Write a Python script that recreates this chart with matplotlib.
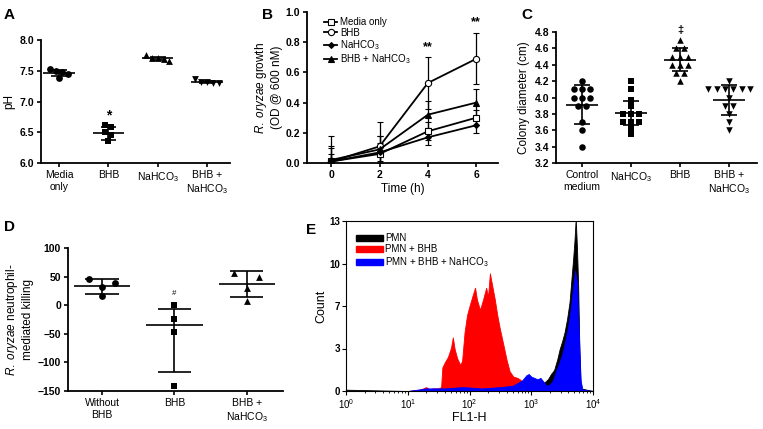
import numpy as np
import matplotlib
matplotlib.use("Agg")
import matplotlib.pyplot as plt
from matplotlib.patches import Patch
from matplotlib.lines import Line2D

plt.rcParams["font.family"] = ["Liberation Sans", "DejaVu Sans"]
plt.rcParams["mathtext.fontset"] = "custom"
plt.rcParams["mathtext.rm"] = "Liberation Sans"
plt.rcParams["mathtext.it"] = "Liberation Sans:italic"
plt.rcParams["mathtext.bf"] = "Liberation Sans:bold"
plt.rcParams["mathtext.default"] = "regular"

# ---- data ----
# A: pH
a_groups = ["Media\nonly", "BHB", "NaHCO$_3$", "BHB +\nNaHCO$_3$"]
a_points = [[7.53, 7.50, 7.48, 7.45, 7.38],
            [6.61, 6.59, 6.50, 6.45, 6.35],
            [7.75, 7.71, 7.69, 7.66, 7.70],
            [7.36, 7.31, 7.30, 7.30, 7.31]]
a_mean = [7.47, 6.48, 7.70, 7.31]
a_lo = [7.42, 6.37, 7.67, 7.295]
a_hi = [7.52, 6.59, 7.73, 7.33]

# B: growth curves
b_time = [0, 2, 4, 6]
b_series = ["Media only", "BHB", "NaHCO$_3$", "BHB + NaHCO$_3$"]
b_media = [0.01, 0.06, 0.21, 0.30]
b_bhb = [0.01, 0.11, 0.53, 0.69]
b_nahco3 = [0.01, 0.07, 0.17, 0.25]
b_combo = [0.02, 0.09, 0.32, 0.40]
b_media_sd = [0.17, 0.12, 0.06, 0.05]
b_bhb_sd = [0.09, 0.16, 0.17, 0.17]
b_nahco3_sd = [0.05, 0.06, 0.05, 0.05]
b_combo_sd = [0.09, 0.09, 0.09, 0.09]

# C: colony diameter
c_groups = ["Control\nmedium", "NaHCO$_3$", "BHB", "BHB +\nNaHCO$_3$"]
c_points = [[4.2, 4.1, 4.1, 4.1, 4.0, 4.0, 4.0, 3.9, 3.9, 3.7, 3.6, 3.4],
            [4.2, 4.1, 3.97, 3.9, 3.8, 3.8, 3.8, 3.7, 3.7, 3.7, 3.63, 3.56],
            [4.7, 4.6, 4.6, 4.5, 4.5, 4.5, 4.4, 4.4, 4.4, 4.3, 4.3, 4.2],
            [4.2, 4.1, 4.1, 4.1, 4.1, 4.1, 4.1, 4.0, 3.9, 3.9, 3.8, 3.7, 3.6]]
c_mean = [3.91, 3.81, 4.46, 3.97]
c_lo = [3.68, 3.66, 4.32, 3.79]
c_hi = [4.15, 3.96, 4.60, 4.15]

# D: neutrophil-mediated killing
d_groups = ["Without\nBHB", "BHB", "BHB +\nNaHCO$_3$"]
d_points = [[46, 38, 32, 16],
            [0, -24, -47, -141],
            [57, 50, 30, 8]]
d_mean = [33, -35, 37]
d_lo = [20, -117, 15]
d_hi = [46, -6, 59]

# E: flow cytometry histograms (log10 FL1-H, count)
e_black_logx = [0.0, 1.0, 1.5, 2.0, 2.5, 2.8, 2.95, 3.0, 3.1, 3.2, 3.27, 3.32, 3.37,
                3.42, 3.46, 3.5, 3.54, 3.58, 3.62, 3.65, 3.68, 3.7, 3.72, 3.74,
                3.76, 3.78, 3.8, 4.0]
e_black = [0.1, 0.0, 0.1, 0.2, 0.1, 0.3, 0.5, 0.4, 0.5, 0.6, 0.9, 1.3, 1.6, 2.4,
           3.2, 3.8, 4.5, 5.5, 6.8, 8.5, 10.2, 11.5, 13.2, 11.0, 8.0, 3.0, 0.2, 0.0]
e_red_logx = [0.0, 1.0, 1.2, 1.3, 1.35, 1.4, 1.5, 1.54, 1.56, 1.6, 1.65, 1.7, 1.73,
              1.76, 1.8, 1.85, 1.88, 1.92, 1.96, 2.0, 2.05, 2.09, 2.12, 2.17, 2.22,
              2.27, 2.3, 2.33, 2.37, 2.41, 2.45, 2.49, 2.55, 2.6, 2.65, 2.71, 2.78,
              2.84, 2.9, 2.95, 3.0, 3.2, 4.0]
e_red = [0.0, 0.0, 0.1, 0.3, 0.1, 0.2, 0.2, 0.3, 1.8, 2.2, 2.6, 3.3, 4.1, 3.2, 2.5,
         2.0, 2.3, 4.5, 5.8, 6.5, 7.3, 7.9, 7.0, 6.2, 7.0, 7.9, 7.2, 9.0, 8.0, 7.0,
         5.8, 4.8, 3.5, 2.4, 1.5, 1.1, 1.0, 0.8, 0.4, 0.2, 0.1, 0.0, 0.0]
e_blue_logx = [0.0, 1.0, 1.3, 1.6, 1.9, 2.2, 2.5, 2.7, 2.85, 2.92, 2.96, 3.0, 3.05,
               3.1, 3.15, 3.2, 3.25, 3.3, 3.35, 3.4, 3.45, 3.5, 3.55, 3.6, 3.64,
               3.68, 3.71, 3.74, 3.77, 3.8, 3.83, 4.0]
e_blue = [0.0, 0.0, 0.2, 0.2, 0.3, 0.2, 0.3, 0.4, 0.8, 1.2, 1.3, 1.1, 1.0, 0.9, 1.0,
          0.7, 0.4, 0.5, 0.8, 1.5, 2.1, 2.8, 3.8, 5.0, 6.3, 8.0, 9.2, 8.3, 4.5, 0.8,
          0.1, 0.0]
e_labels = ["PMN", "PMN + BHB", "PMN + BHB + NaHCO$_3$"]


def spread(vals, tol, step):
    # centre runs of near-equal values side by side
    vals = np.asarray(vals, dtype=float)
    order = np.argsort(-vals, kind="stable")
    offs = np.zeros(len(vals))
    groups = []
    for idx in order:
        if groups and vals[groups[-1][0]] - vals[idx] < tol:
            groups[-1].append(idx)
        else:
            groups.append([idx])
    for g in groups:
        n = len(g)
        for k, idx in enumerate(g):
            offs[idx] = (k - (n - 1) / 2) * step
    return offs


def dotplot(ax, points, mean, lo, hi, markers, tol, step, mw, cw, ms):
    for i, pts in enumerate(points):
        x = i + 1
        offs = spread(pts, tol, step)
        ax.scatter(offs + x, pts, marker=markers[i], s=ms, color="black",
                   zorder=3, linewidths=0)
        ax.hlines(mean[i], x - mw, x + mw, color="black", lw=1.2, zorder=4)
        ax.hlines([lo[i], hi[i]], x - cw, x + cw, color="black", lw=1.2, zorder=4)
        ax.vlines(x, lo[i], hi[i], color="black", lw=1.2, zorder=4)


def style(ax):
    for s in ["top", "right"]:
        ax.spines[s].set_visible(False)
    for s in ["left", "bottom"]:
        ax.spines[s].set_linewidth(1.3)
    ax.tick_params(width=1.2, length=3, labelsize=7.5, pad=2)
    for lab in ax.get_yticklabels():
        lab.set_fontweight("bold")


fig = plt.figure(figsize=(7.63, 4.29), dpi=100)
W, H = 763, 429


def axes_px(l, t, r, b):
    return fig.add_axes([l / W, 1 - b / H, (r - l) / W, (b - t) / H])


# ---- A ----
ax = axes_px(41, 40, 230, 163)
dotplot(ax, a_points, a_mean, a_lo, a_hi, ["o", "s", "^", "v"], 0.1, 0.12, 0.32, 0.16, 24)
ax.set_xlim(0.63, 4.47)
ax.set_ylim(6.0, 8.0)
ax.set_yticks([6.0, 6.5, 7.0, 7.5, 8.0])
ax.set_yticklabels(["6.0", "6.5", "7.0", "7.5", "8.0"])
ax.set_xticks(range(1, 5))
ax.set_xticklabels(a_groups, fontsize=8)
ax.set_ylabel("pH", fontsize=8.5, labelpad=3)
ax.text(2, a_hi[1] + 0.07, "*", ha="center", va="bottom", fontsize=10, fontweight="bold")
style(ax)

# ---- B ----
ax = axes_px(307, 12, 498, 163)
specs = [(b_media, b_media_sd, "s", "white"), (b_bhb, b_bhb_sd, "o", "white"),
         (b_nahco3, b_nahco3_sd, "D", "black"), (b_combo, b_combo_sd, "^", "black")]
handles = []
for (vals, sd, mk, fc), name in zip(specs, b_series):
    ms = 3 if mk == "D" else 4.5
    ax.errorbar(b_time, vals, yerr=sd, color="black", lw=1.3, marker=mk, ms=ms,
                mfc=fc, mec="black", mew=0.8, capsize=2, elinewidth=0.9, capthick=0.9)
    handles.append(Line2D([], [], color="black", lw=1.3, marker=mk, ms=ms, mfc=fc,
                          mec="black", mew=0.8))
ax.legend(handles, b_series, loc="upper left", bbox_to_anchor=(0.07, 0.99), frameon=False,
          fontsize=7, handlelength=1.3, handletextpad=0.3, labelspacing=0.05,
          borderaxespad=0)
ax.set_xlim(-1, 6.9)
ax.set_ylim(0, 1.0)
ax.set_xticks(b_time)
ax.set_yticks([0, 0.2, 0.4, 0.6, 0.8, 1.0])
ax.set_yticklabels(["0.0", "0.2", "0.4", "0.6", "0.8", "1.0"])
ax.set_xlabel("Time (h)", fontsize=8.5, labelpad=2)
ax.set_ylabel("$\\it{R.\\ oryzae}$ growth\n(OD @ 600 nM)", fontsize=8.5, labelpad=2)
ax.text(4, 0.73, "**", ha="center", va="bottom", fontsize=9, fontweight="bold")
ax.text(6, 0.89, "**", ha="center", va="bottom", fontsize=9, fontweight="bold")
style(ax)
for lab in ax.get_xticklabels():
    lab.set_fontweight("bold")

# ---- C ----
ax = axes_px(556, 32, 757, 163)
dotplot(ax, c_points, c_mean, c_lo, c_hi, ["o", "s", "^", "v"], 0.05, 0.17, 0.32, 0.17, 22)
ax.set_xlim(0.47, 4.57)
ax.set_ylim(3.2, 4.8)
ax.set_yticks(np.arange(3.2, 4.81, 0.2))
ax.set_yticklabels(["3.2", "3.4", "3.6", "3.8", "4.0", "4.2", "4.4", "4.6", "4.8"])
ax.set_xticks(range(1, 5))
ax.set_xticklabels(c_groups, fontsize=8)
ax.set_ylabel("Colony diameter (cm)", fontsize=8.5, labelpad=3)
ax.text(3, 4.76, "\u2021", ha="center", va="bottom", fontsize=8, fontweight="bold",
        clip_on=False)
style(ax)

# ---- D ----
ax = axes_px(68, 248, 283, 391)
dotplot(ax, d_points, d_mean, d_lo, d_hi, ["o", "s", "^"], 10, 0.35, 0.39, 0.23, 24)
ax.set_xlim(0.53, 3.5)
ax.set_ylim(-150, 100)
ax.set_yticks([-150, -100, -50, 0, 50, 100])
ax.set_xticks(range(1, 4))
ax.set_xticklabels(d_groups, fontsize=8)
ax.set_ylabel("$\\it{R.\\ oryzae}$ neutrophil-\nmediated killing", fontsize=8.5, labelpad=3)
ax.text(2, 15, "#", ha="center", va="bottom", fontsize=5.5, fontstyle="italic")
style(ax)

# ---- E ----
ax = axes_px(346, 221, 593, 391)
for lx, cnt, col in [(e_black_logx, e_black, "black"), (e_red_logx, e_red, "red"),
                     (e_blue_logx, e_blue, "blue")]:
    xv = 10 ** np.array(lx)
    ax.fill_between(xv, cnt, color=col, lw=0.6, edgecolor=col)
ax.set_xscale("log")
ax.set_xlim(1, 1e4)
ax.set_ylim(0, 13)
ax.set_yticks(np.linspace(0, 13, 5))
ax.set_yticklabels(["0", "3", "7", "10", "13"], fontweight="bold")
ax.set_xlabel("FL1-H", fontsize=9, labelpad=1)
ax.set_ylabel("Count", fontsize=9, labelpad=1)
ax.tick_params(width=0.8, length=3, labelsize=7, pad=1.5)
ax.tick_params(which="minor", length=1.5, width=0.6)
for s in ax.spines.values():
    s.set_linewidth(0.8)
ax.legend([Patch(color="black"), Patch(color="red"), Patch(color="blue")], e_labels,
          loc="upper left", bbox_to_anchor=(0.025, 0.95), frameon=False, fontsize=7,
          handlelength=2.8, handleheight=0.6, handletextpad=0.2, labelspacing=0.1,
          borderaxespad=0)

# panel letters
for letter, (px, py) in zip("ABCDE", [(4, 15), (262, 15), (521, 15), (4, 227), (306, 230)]):
    fig.text(px / W, 1 - py / H, letter, fontsize=11, fontweight="bold", ha="left",
             va="center")

fig.savefig("out.png", dpi=100, facecolor="white")
